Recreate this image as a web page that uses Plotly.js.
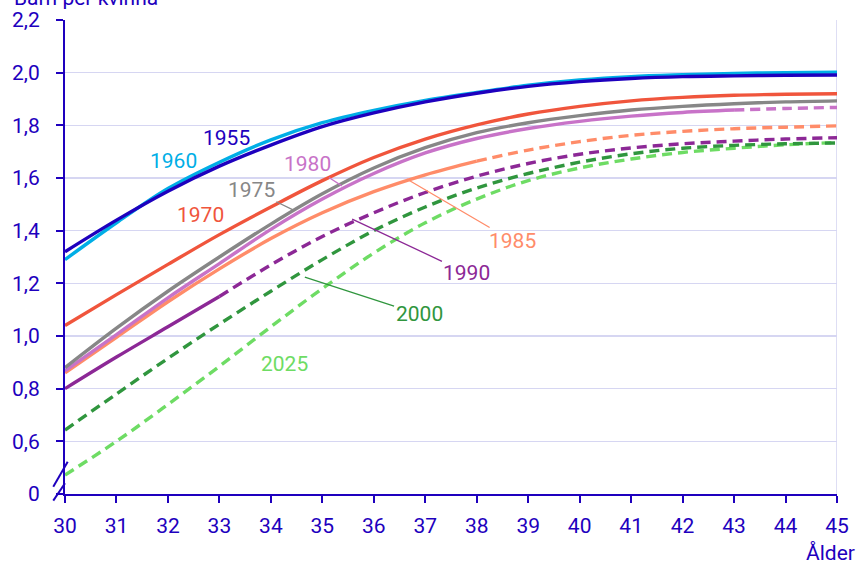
<!DOCTYPE html>
<html>
<head>
<meta charset="utf-8">
<script src="https://cdn.plot.ly/plotly-3.0.1.min.js"></script>
<style>html,body{margin:0;padding:0;background:#fff;}#chart{width:859px;height:563px;}</style>
</head>
<body>
<div id="chart"></div>
<script>
// Ages (x axis)
const ages = [30,31,32,33,34,35,36,37,38,39,40,41,42,43,44,45];

// Cumulative fertility (children per woman) by birth cohort
const cohorts = ["1955","1960","1970","1975","1980","1985","1990","2000","2025"];
const v1955 = [1.32,1.44,1.55,1.645,1.725,1.795,1.847,1.889,1.922,1.948,1.966,1.978,1.985,1.988,1.99,1.991];
const v1960 = [1.29,1.43,1.56,1.66,1.745,1.81,1.857,1.895,1.925,1.952,1.972,1.985,1.992,1.997,2.0,2.002];
const v1970 = [1.04,1.157,1.272,1.385,1.49,1.59,1.678,1.748,1.802,1.843,1.872,1.893,1.906,1.914,1.918,1.92];
const v1975 = [0.88,1.03,1.17,1.30,1.425,1.54,1.638,1.715,1.772,1.81,1.837,1.858,1.872,1.882,1.889,1.893];
const v1980 = [0.868,1.005,1.145,1.275,1.405,1.52,1.617,1.695,1.75,1.788,1.815,1.835,1.849,1.858,1.864,1.868];
const v1985 = [0.86,0.995,1.13,1.255,1.37,1.468,1.548,1.612,1.664,1.706,1.738,1.762,1.777,1.787,1.793,1.798];
const v1990 = [0.8,0.92,1.035,1.15,1.27,1.378,1.468,1.545,1.607,1.655,1.69,1.714,1.73,1.74,1.748,1.753];
const v2000 = [0.643,0.78,0.915,1.045,1.17,1.29,1.40,1.49,1.562,1.617,1.66,1.692,1.713,1.724,1.73,1.733];
const v2025 = [0.472,0.6,0.74,0.885,1.035,1.18,1.315,1.43,1.52,1.59,1.638,1.672,1.697,1.713,1.726,1.735];

// Last observed age (solid) — beyond this the series is a forecast (dashed)
const observedTo = {"1955":45,"1960":45,"1970":45,"1975":45,"1980":43,"1985":38,"1990":33,"2000":29,"2025":29};

// Y tick values and labels (broken axis: lowest tick is labelled 0)
const yTickVals = [0.4,0.6,0.8,1.0,1.2,1.4,1.6,1.8,2.0,2.2];
const yTickText = ["0","0,6","0,8","1,0","1,2","1,4","1,6","1,8","2,0","2,2"];

const colors = {
  "1955":"#1e00be","1960":"#00aee6","1970":"#f0553c","1975":"#878787",
  "1980":"#c873c8","1985":"#ff8c69","1990":"#8c2896","2000":"#30963e","2025":"#6edc64"
};
const values = {"1955":v1955,"1960":v1960,"1970":v1970,"1975":v1975,"1980":v1980,
  "1985":v1985,"1990":v1990,"2000":v2000,"2025":v2025};

const LW = 3.4;
const traces = [];
// draw order: back to front
const order = ["2025","2000","1990","1985","1980","1975","1970","1960","1955"];
order.forEach(c => {
  const v = values[c], lim = observedTo[c];
  const sx=[],sy=[],dx=[],dy=[];
  ages.forEach((a,i)=>{
    if (a<=lim){sx.push(a);sy.push(v[i]);}
    if (a>=lim){dx.push(a);dy.push(v[i]);}
  });
  if (sx.length>1) traces.push({x:sx,y:sy,type:"scatter",mode:"lines",
    line:{color:colors[c],width:LW,shape:"spline",smoothing:1},hoverinfo:"skip",showlegend:false});
  if (dx.length>1) traces.push({x:dx,y:dy,type:"scatter",mode:"lines",
    line:{color:colors[c],width:LW,shape:"spline",smoothing:1,dash:"10px,6px"},hoverinfo:"skip",showlegend:false});
});

const axisBlue = "#1e00be";
const gridC = "#d6d6f2";
const fnt = "Roboto, sans-serif";
const F = 21;

function lab(text,c,x,y,opts){
  return Object.assign({text:text,x:x,y:y,xref:"x",yref:"y",showarrow:false,
    font:{family:fnt,size:F,color:colors[c]}},opts||{});
}
function leader(text,c,tx,ty,px,py){
  return {text:text,x:px,y:py,ax:tx,ay:ty,xref:"x",yref:"y",axref:"x",ayref:"y",
    showarrow:true,arrowhead:0,arrowwidth:1.3,arrowcolor:colors[c],
    font:{family:fnt,size:F,color:colors[c]}};
}

const annotations = [
  lab("1955","1955",33.14,1.752),
  lab("1960","1960",32.11,1.665),
  lab("1970","1970",32.64,1.46),
  leader("1975","1975",33.62,1.556,34.43,1.479),
  leader("1980","1980",34.72,1.653,35.38,1.57),
  leader("1985","1985",38.70,1.361,36.64,1.596),
  leader("1990","1990",37.81,1.239,35.58,1.444),
  leader("2000","2000",36.88,1.082,34.66,1.224),
  lab("2025","2025",34.27,0.894),
  {text:"Barn per kvinna",xref:"paper",yref:"paper",x:-0.0687,y:1.016,xanchor:"left",yanchor:"bottom",
    showarrow:false,font:{family:fnt,size:F,color:axisBlue}},
  {text:"Ålder",xref:"paper",yref:"paper",x:1.0259,y:-0.094,xanchor:"right",yanchor:"top",
    showarrow:false,font:{family:fnt,size:F,color:axisBlue}}
];

// axis-break marks (paper coordinates, lower-left corner of the plot)
const shapes = [
  {type:"line",xref:"x",yref:"paper",x0:45,x1:45,y0:0,y1:1,line:{color:gridC,width:1.6},layer:"below"},
  {type:"line",xref:"paper",yref:"paper",x0:-0.0152,y0:0.0154,x1:0.0035,y1:0.0681,
    line:{color:axisBlue,width:2},layer:"above"},
  {type:"line",xref:"paper",yref:"paper",x0:-0.0152,y0:-0.0141,x1:0,y1:0.0226,
    line:{color:axisBlue,width:2},layer:"above"}
];

const layout = {
  width:859,height:563,
  margin:{l:65,r:22,t:20,b:69,pad:0},
  paper_bgcolor:"#fff",plot_bgcolor:"#fff",
  showlegend:false,hovermode:false,
  font:{family:fnt,size:F,color:axisBlue},
  xaxis:{range:[30,45],tickmode:"array",tickvals:ages,ticktext:ages.map(String),
    showgrid:false,zeroline:false,showline:true,linecolor:axisBlue,linewidth:2,
    ticks:"outside",ticklen:7,tickwidth:2,tickcolor:axisBlue,ticklabelstandoff:5,
    tickfont:{family:fnt,size:F,color:axisBlue},fixedrange:true},
  yaxis:{range:[0.4,2.2],tickmode:"array",tickvals:yTickVals,ticktext:yTickText,
    showgrid:true,gridcolor:gridC,gridwidth:1.6,zeroline:false,showline:true,linecolor:axisBlue,linewidth:2,
    ticks:"outside",ticklen:7,tickwidth:2,tickcolor:axisBlue,ticklabelstandoff:12,
    tickfont:{family:fnt,size:F,color:axisBlue},fixedrange:true},
  annotations:annotations,
  shapes:shapes
};

Plotly.newPlot("chart",traces,layout,{displayModeBar:false,staticPlot:true});
</script>
</body>
</html>
